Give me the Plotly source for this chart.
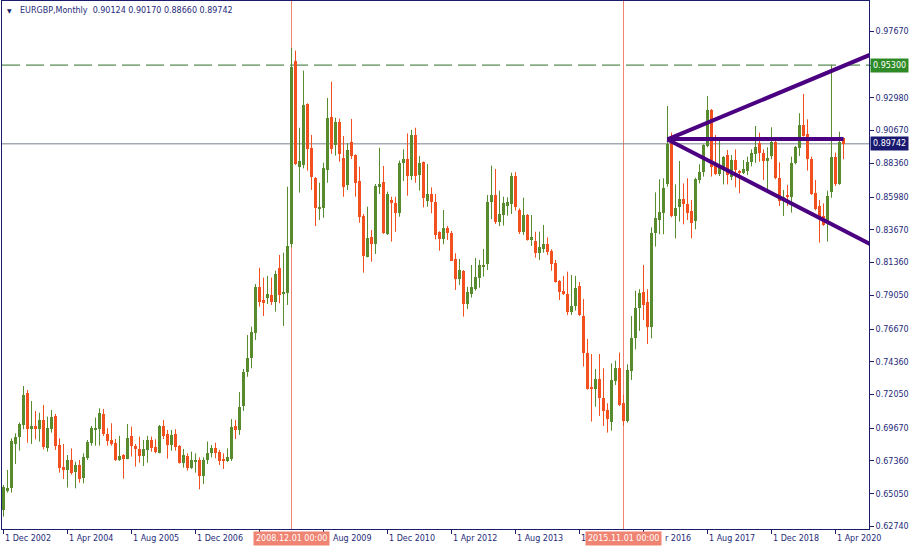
import plotly.graph_objects as go

# ---------------- data (EURGBP monthly) ----------------
open_ = [0.6390, 0.6522, 0.6548, 0.6856, 0.6908, 0.6990, 0.7218, 0.6962, 0.6983, 0.6962,
         0.7025, 0.6830, 0.6962, 0.7056, 0.6847, 0.6694, 0.6675, 0.6743, 0.6661, 0.6708,
         0.6618, 0.6760, 0.6865, 0.6955, 0.6962, 0.7068, 0.6929, 0.6884, 0.6861, 0.6743,
         0.6776, 0.6750, 0.6913, 0.6842, 0.6818, 0.6771, 0.6814, 0.6884, 0.6833, 0.6795,
         0.6983, 0.6924, 0.6849, 0.6927, 0.6842, 0.6724, 0.6771, 0.6689, 0.6729, 0.6743,
         0.6630, 0.6743, 0.6793, 0.6825, 0.6799, 0.6753, 0.6736, 0.6753, 0.6983, 0.6955,
         0.7124, 0.7366, 0.7460, 0.7642, 0.7966, 0.7872, 0.7889, 0.7908, 0.7860, 0.8098,
         0.7915, 0.7924, 0.8267, 0.9559, 0.8813, 0.8825, 0.9255, 0.8947, 0.8736, 0.8512,
         0.8524, 0.8790, 0.9166, 0.8966, 0.9131, 0.8877, 0.8684, 0.8985, 0.8896, 0.8712,
         0.8465, 0.8178, 0.8319, 0.8265, 0.8672, 0.8707, 0.8338, 0.8578, 0.8559, 0.8489,
         0.8837, 0.8867, 0.8750, 0.9037, 0.8754, 0.8848, 0.8573, 0.8620, 0.8564, 0.8352,
         0.8300, 0.8380, 0.8345, 0.8162, 0.8020, 0.8077, 0.7844, 0.7915, 0.7950, 0.8030,
         0.8107, 0.8126, 0.8561, 0.8613, 0.8425, 0.8472, 0.8536, 0.8550, 0.8747, 0.8507,
         0.8354, 0.8472, 0.8296, 0.8289, 0.8206, 0.8230, 0.8268, 0.8218, 0.8131, 0.8006,
         0.7936, 0.7915, 0.7790, 0.7830, 0.7971, 0.7759, 0.7501, 0.7253, 0.7247, 0.7315,
         0.7183, 0.7096, 0.7014, 0.7303, 0.7390, 0.7143, 0.7021, 0.7374, 0.7602, 0.7813,
         0.7926, 0.7856, 0.7684, 0.8343, 0.8437, 0.8489, 0.8688, 0.9020, 0.8467, 0.8531,
         0.8585, 0.8550, 0.8502, 0.8430, 0.8719, 0.8778, 0.8962, 0.9213, 0.8832, 0.8761,
         0.8808, 0.8895, 0.8743, 0.8860, 0.8785, 0.8766, 0.8785, 0.8848, 0.8905, 0.8978,
         0.8907, 0.8856, 0.8888, 0.8985, 0.8731, 0.8573, 0.8613, 0.8597, 0.8837, 0.8943,
         0.9107, 0.9041, 0.8867, 0.8625, 0.8536, 0.8465, 0.8418, 0.8637, 0.8884, 0.8691,
         0.90124]
high = [0.6567, 0.6673, 0.6896, 0.6931, 0.7007, 0.7265, 0.7237, 0.7159, 0.7089, 0.7077,
        0.7131, 0.7049, 0.7096, 0.7068, 0.6896, 0.6856, 0.6778, 0.6825, 0.6731, 0.6743,
        0.6790, 0.6884, 0.6983, 0.7042, 0.7108, 0.7103, 0.6967, 0.7002, 0.6891, 0.6913,
        0.6785, 0.6997, 0.6978, 0.6856, 0.6908, 0.6884, 0.6913, 0.6908, 0.6889, 0.6990,
        0.7025, 0.6955, 0.6955, 0.6960, 0.6848, 0.6821, 0.6790, 0.6802, 0.6790, 0.6762,
        0.6762, 0.6873, 0.6849, 0.6865, 0.6814, 0.6790, 0.6825, 0.7032, 0.7025, 0.7223,
        0.7385, 0.7625, 0.7684, 0.7985, 0.8100, 0.8030, 0.8042, 0.8030, 0.8079, 0.8190,
        0.8206, 0.8672, 0.9650, 0.9632, 0.9088, 0.9491, 0.9260, 0.9037, 0.8740, 0.8700,
        0.8841, 0.9298, 0.9413, 0.9159, 0.9152, 0.9030, 0.8978, 0.9150, 0.8900, 0.8813,
        0.8479, 0.8531, 0.8366, 0.8691, 0.8947, 0.8818, 0.8637, 0.8601, 0.8601, 0.8856,
        0.8935, 0.9048, 0.9072, 0.9088, 0.8888, 0.8850, 0.8832, 0.8667, 0.8620, 0.8357,
        0.8507, 0.8394, 0.8359, 0.8202, 0.8162, 0.8084, 0.7966, 0.8119, 0.8169, 0.8155,
        0.8232, 0.8613, 0.8820, 0.8797, 0.8644, 0.8601, 0.8597, 0.8771, 0.8775, 0.8519,
        0.8594, 0.8479, 0.8472, 0.8354, 0.8354, 0.8402, 0.8314, 0.8230, 0.8155, 0.8013,
        0.8042, 0.8072, 0.8049, 0.8042, 0.7999, 0.7879, 0.7597, 0.7491, 0.7385, 0.7491,
        0.7390, 0.7143, 0.7425, 0.7444, 0.7501, 0.7202, 0.7418, 0.7759, 0.7938, 0.7948,
        0.8119, 0.7948, 0.8385, 0.8632, 0.8724, 0.8731, 0.9241, 0.9053, 0.8688, 0.8853,
        0.8695, 0.8731, 0.8578, 0.8735, 0.8830, 0.8971, 0.9312, 0.9220, 0.9037, 0.9013,
        0.8888, 0.8931, 0.8895, 0.8935, 0.8790, 0.8860, 0.8884, 0.8935, 0.9100, 0.9053,
        0.8935, 0.8950, 0.9091, 0.9013, 0.8844, 0.8649, 0.8684, 0.8884, 0.8959, 0.9190,
        0.9326, 0.9147, 0.8884, 0.8719, 0.8578, 0.8554, 0.8644, 0.9531, 0.8912, 0.9060,
        0.90170]
low = [0.6343, 0.6513, 0.6513, 0.6715, 0.6809, 0.6960, 0.6865, 0.6856, 0.6889, 0.6873,
       0.6818, 0.6802, 0.6936, 0.6814, 0.6654, 0.6609, 0.6548, 0.6640, 0.6543, 0.6583,
       0.6578, 0.6743, 0.6844, 0.6844, 0.6844, 0.6913, 0.6844, 0.6844, 0.6736, 0.6736,
       0.6611, 0.6748, 0.6767, 0.6696, 0.6724, 0.6701, 0.6724, 0.6802, 0.6790, 0.6790,
       0.6891, 0.6753, 0.6809, 0.6809, 0.6718, 0.6689, 0.6668, 0.6680, 0.6654, 0.6536,
       0.6574, 0.6715, 0.6762, 0.6755, 0.6708, 0.6680, 0.6729, 0.6736, 0.6891, 0.6920,
       0.7089, 0.7330, 0.7390, 0.7590, 0.7825, 0.7759, 0.7844, 0.7837, 0.7790, 0.7849,
       0.7689, 0.7837, 0.8244, 0.8825, 0.8630, 0.8801, 0.8785, 0.8649, 0.8394, 0.8437,
       0.8453, 0.8700, 0.8903, 0.8891, 0.8848, 0.8601, 0.8649, 0.8867, 0.8601, 0.8418,
       0.8065, 0.8173, 0.8143, 0.8197, 0.8620, 0.8338, 0.8331, 0.8284, 0.8354, 0.8460,
       0.8712, 0.8608, 0.8719, 0.8700, 0.8644, 0.8526, 0.8531, 0.8484, 0.8300, 0.8220,
       0.8265, 0.8296, 0.8147, 0.7943, 0.7978, 0.7755, 0.7809, 0.7889, 0.7938, 0.7959,
       0.8037, 0.8084, 0.8444, 0.8408, 0.8394, 0.8397, 0.8467, 0.8479, 0.8503, 0.8338,
       0.8331, 0.8291, 0.8253, 0.8171, 0.8155, 0.8206, 0.8190, 0.8079, 0.7995, 0.7872,
       0.7908, 0.7766, 0.7766, 0.7797, 0.7759, 0.7402, 0.7240, 0.7014, 0.7119, 0.7054,
       0.6983, 0.6936, 0.6950, 0.7272, 0.7124, 0.6983, 0.7006, 0.7308, 0.7524, 0.7654,
       0.7731, 0.7562, 0.7602, 0.8249, 0.8336, 0.8336, 0.8672, 0.8456, 0.8307, 0.8425,
       0.8406, 0.8437, 0.8307, 0.8371, 0.8695, 0.8743, 0.8950, 0.8743, 0.8755, 0.8747,
       0.8688, 0.8688, 0.8719, 0.8667, 0.8625, 0.8761, 0.8754, 0.8815, 0.8840, 0.8848,
       0.8719, 0.8653, 0.8865, 0.8724, 0.8536, 0.8465, 0.8536, 0.8489, 0.8830, 0.8888,
       0.9025, 0.8785, 0.8613, 0.8505, 0.8277, 0.8395, 0.8284, 0.8594, 0.8677, 0.8685,
       0.88660]
close = [0.6552, 0.6548, 0.6877, 0.6908, 0.6997, 0.7202, 0.6962, 0.6983, 0.6962, 0.7025,
         0.6833, 0.6969, 0.7047, 0.6844, 0.6689, 0.6675, 0.6743, 0.6654, 0.6708, 0.6611,
         0.6762, 0.6870, 0.6969, 0.6969, 0.7077, 0.6929, 0.6880, 0.6856, 0.6743, 0.6771,
         0.6753, 0.6896, 0.6844, 0.6818, 0.6774, 0.6818, 0.6884, 0.6828, 0.6802, 0.6983,
         0.6915, 0.6849, 0.6920, 0.6837, 0.6724, 0.6776, 0.6689, 0.6743, 0.6743, 0.6630,
         0.6743, 0.6793, 0.6825, 0.6793, 0.6736, 0.6736, 0.6764, 0.6978, 0.6955, 0.7119,
         0.7366, 0.7460, 0.7649, 0.7966, 0.7860, 0.7853, 0.7915, 0.7860, 0.8056, 0.7908,
         0.7924, 0.8253, 0.9519, 0.8832, 0.8853, 0.9248, 0.8938, 0.8743, 0.8519, 0.8531,
         0.8806, 0.9157, 0.8940, 0.9128, 0.8903, 0.8672, 0.8931, 0.8891, 0.8700, 0.8460,
         0.8185, 0.8312, 0.8265, 0.8677, 0.8691, 0.8343, 0.8620, 0.8554, 0.8489, 0.8841,
         0.8867, 0.8750, 0.9037, 0.8750, 0.8841, 0.8590, 0.8620, 0.8561, 0.8331, 0.8300,
         0.8380, 0.8347, 0.8150, 0.8020, 0.8084, 0.7844, 0.7929, 0.7962, 0.8037, 0.8119,
         0.8114, 0.8566, 0.8613, 0.8420, 0.8479, 0.8557, 0.8566, 0.8747, 0.8526, 0.8354,
         0.8472, 0.8296, 0.8314, 0.8206, 0.8249, 0.8268, 0.8213, 0.8126, 0.8002, 0.7931,
         0.7915, 0.7790, 0.7830, 0.7959, 0.7766, 0.7501, 0.7247, 0.7244, 0.7315, 0.7183,
         0.7091, 0.7032, 0.7308, 0.7390, 0.7131, 0.7021, 0.7378, 0.7602, 0.7813, 0.7924,
         0.7837, 0.7684, 0.8343, 0.8449, 0.8493, 0.8660, 0.8971, 0.8467, 0.8519, 0.8585,
         0.8547, 0.8488, 0.8413, 0.8724, 0.8778, 0.8966, 0.9213, 0.8813, 0.8761, 0.8808,
         0.8884, 0.8754, 0.8860, 0.8790, 0.8771, 0.8797, 0.8848, 0.8907, 0.8952, 0.8907,
         0.8856, 0.8877, 0.8985, 0.8731, 0.8573, 0.8601, 0.8601, 0.8837, 0.8954, 0.9107,
         0.9030, 0.8865, 0.8620, 0.8512, 0.8449, 0.8402, 0.8606, 0.8884, 0.8691, 0.8985,
         0.89742]

first_month = "2002-12"
# bottom labels as they are visible in the chart (parts under the date-line tags are hidden)
tick_labels = ["1 Dec 2002", "1 Apr 2004", "1 Aug 2005", "1 Dec 2006", "Aug 2009",
               "1 Dec 2010", "1 Apr 2012", "1 Aug 2013", "1", "r 2016", "1 Aug 2017",
               "1 Dec 2018", "1 Apr 2020"]
label_months = ["2002-12", "2004-04", "2005-08", "2006-12", "2009-08", "2010-12",
                "2012-04", "2013-08", "2014-12", "2016-04", "2017-08", "2018-12", "2020-04"]
label_offsets = [0, 0, 0, 0, 8, 0, 0, 0, 0, 20, 0, 0, 0]   # px offset of visible fragment
tick_months = ["2002-12", "2004-04", "2005-08", "2006-12", "2008-04", "2009-08", "2010-12",
               "2012-04", "2013-08", "2014-12", "2016-04", "2017-08", "2018-12", "2020-04"]
price_ticks = [0.97670, 0.92980, 0.90670, 0.88360, 0.85980, 0.83670, 0.81360, 0.79050,
               0.76670, 0.74360, 0.72050, 0.69670, 0.67360, 0.65050, 0.62740]
level_price = 0.95300
vline_months = ["2008-12", "2015-11"]
vline_texts = ["2008.12.01 00:00", "2015.11.01 00:00"]
trend_lines = [
    (("2016-10", 0.9005), ("2021-04", 0.9642)),
    (("2016-10", 0.9005), ("2021-04", 0.8218)),
    (("2016-10", 0.9008), ("2020-06", 0.9008)),
]
symbol_title = "EURGBP,Monthly"

# ---------------- styling ----------------
BULL = "#578B2E"
BEAR = "#F2501F"
NAVY = "#1C1C6C"
TXT = "#1E2A78"
SALMON = "#F08472"
FONT = "DejaVu Sans"


def idx(ym):
    y0, m0 = map(int, first_month.split("-"))
    y, m = map(int, ym.split("-"))
    return (y - y0) * 12 + (m - m0)


n = len(close)
xs = list(range(n))
bull = [c >= o for o, c in zip(open_, close)]

fig = go.Figure()

# wicks
for flag, col in ((True, BULL), (False, BEAR)):
    wx, wy = [], []
    for i in xs:
        if bull[i] == flag:
            wx += [i, i, None]
            wy += [low[i], high[i], None]
    fig.add_trace(go.Scatter(x=wx, y=wy, mode="lines", line=dict(color=col, width=1),
                             hoverinfo="skip"))

# bodies
base = [min(o, c) for o, c in zip(open_, close)]
height = [max(abs(c - o), 0.0004) for o, c in zip(open_, close)]
fig.add_trace(go.Bar(x=xs, y=height, base=base, width=0.75,
                     marker=dict(color=[BULL if b else BEAR for b in bull], line=dict(width=0)),
                     hoverinfo="skip"))

# trend lines
for (m0, p0), (m1, p1) in trend_lines:
    fig.add_trace(go.Scatter(x=[idx(m0), idx(m1)], y=[p0, p1], mode="lines",
                             line=dict(color="#4B0082", width=4), hoverinfo="skip"))

shapes = []
for m in vline_months:
    shapes.append(dict(type="line", xref="x", yref="paper", x0=idx(m), x1=idx(m), y0=0, y1=1,
                       line=dict(color=SALMON, width=1), layer="below"))
shapes.append(dict(type="line", xref="paper", yref="y", x0=0, x1=1, y0=close[-1], y1=close[-1],
                   line=dict(color="#76808C", width=1), layer="below"))
shapes.append(dict(type="line", xref="paper", yref="y", x0=0, x1=1, y0=level_price, y1=level_price,
                   line=dict(color="#2F6F2A", width=1, dash="18px,6px"), layer="below"))

ann = []
for lab, m, off in zip(tick_labels, label_months, label_offsets):
    ann.append(dict(x=idx(m), xref="x", y=0, yref="paper", text=lab, showarrow=False,
                    xanchor="left", yanchor="middle", yshift=-9.5, xshift=-1 + off,
                    font=dict(family=FONT, size=8, color=TXT)))
for m, t in zip(vline_months, vline_texts):
    ann.append(dict(x=idx(m), xref="x", y=0, yref="paper", text=t, showarrow=False,
                    xanchor="center", yanchor="middle", yshift=-9.5, bgcolor=SALMON,
                    borderpad=2, font=dict(family=FONT, size=8, color="white")))
ann.append(dict(x=1, xref="paper", y=level_price, yref="y", text=f"{level_price:.5f}",
                showarrow=False, xanchor="left", yanchor="middle", xshift=1,
                bgcolor="#2E8A26", borderpad=2, font=dict(family=FONT, size=8, color="white")))
ann.append(dict(x=1, xref="paper", y=close[-1], yref="y", text=f"{close[-1]:.5f}",
                showarrow=False, xanchor="left", yanchor="middle", xshift=1,
                bgcolor="#191970", borderpad=2, font=dict(family=FONT, size=8, color="white")))
header = f"{symbol_title}  {open_[-1]:.5f} {high[-1]:.5f} {low[-1]:.5f} {close[-1]:.5f}"
ann.append(dict(x=16 / 867, xref="paper", y=1 - 10 / 528, yref="paper", text=header,
                showarrow=False, xanchor="left", yanchor="middle",
                font=dict(family=FONT, size=8, color=TXT)))
ann.append(dict(x=7.5 / 867, xref="paper", y=1 - 10 / 528, yref="paper", text="\u25BC",
                showarrow=False, xanchor="center", yanchor="middle",
                font=dict(family=FONT, size=6, color=NAVY)))

fig.update_layout(
    width=915, height=550,
    margin=dict(l=2, r=46, t=1, b=21),
    plot_bgcolor="white", paper_bgcolor="white",
    showlegend=False, barmode="overlay", bargap=0,
    shapes=shapes, annotations=ann,
    xaxis=dict(range=[-0.375, 216.375], showgrid=False, zeroline=False,
               showline=True, mirror=True, linecolor=NAVY, linewidth=1,
               ticks="outside", ticklen=4, tickcolor=NAVY,
               tickvals=[idx(m) for m in tick_months], showticklabels=False),
    yaxis=dict(range=[0.62560, 0.99822], side="right", showgrid=False, zeroline=False,
               showline=True, mirror=True, linecolor=NAVY, linewidth=1,
               ticks="outside", ticklen=4, tickcolor=NAVY,
               tickvals=price_ticks + [level_price],
               ticktext=[f"{p:.5f}" for p in price_ticks] + [""],
               tickfont=dict(family=FONT, size=8, color=TXT)),
)

fig.write_html("out.html", config={"displayModeBar": False},
               post_script="document.body.style.margin='0px';document.body.style.overflow='hidden';")
